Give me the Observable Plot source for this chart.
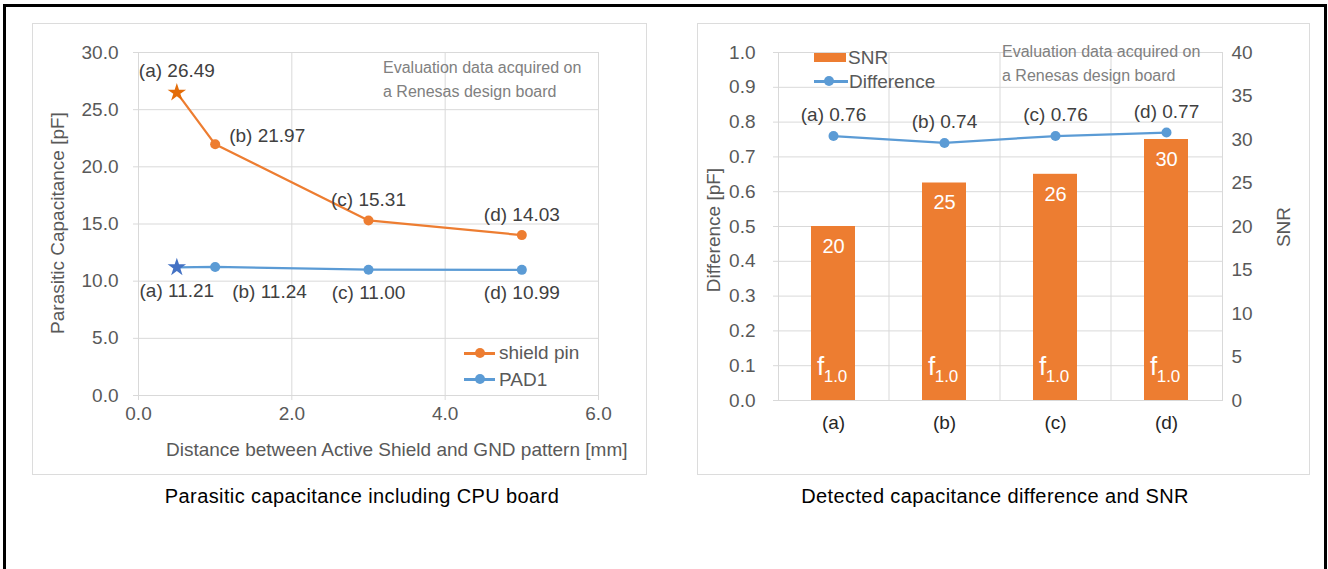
<!DOCTYPE html>
<html>
<head>
<meta charset="utf-8">
<script src="https://cdn.jsdelivr.net/npm/d3@7"></script>
<script src="https://cdn.jsdelivr.net/npm/@observablehq/plot@0.6"></script>
<style>
  html, body { margin: 0; padding: 0; background: #fff; }
  #page { position: relative; width: 1328px; height: 569px; overflow: hidden; background: #fff;
          font-family: "Liberation Sans", Arial, sans-serif; }
  .abs { position: absolute; white-space: nowrap; }
  .outer { position: absolute; left: 3px; top: 4px; width: 1318px; height: 600px;
           border: 3px solid #000; border-bottom: none; }
  .frame { position: absolute; border: 1.5px solid #dcdcdc; box-sizing: border-box; }
  .ann { font-size: 16px; line-height: 16px; color: #808080; }
  .axt { font-size: 19px; line-height: 19px; color: #595959; }
  .cap { font-size: 20px; line-height: 20px; color: #000; letter-spacing: 0.4px; transform: translateX(-50%); }
  .rot { transform: translate(-50%, -50%) rotate(-90deg); }
  .leg { font-size: 19px; line-height: 19px; color: #595959; }
  #right g[aria-label="x-axis tick label"] text, #right g[aria-label="x-axis"] text { fill: #262626; }
  #left g[aria-label$="tick"] path, #right g[aria-label="y-axis tick"] path,
  #left g[aria-label="x-axis"] line, #left g[aria-label="y-axis"] line, #right g[aria-label="y-axis"] line { stroke: #d9d9d9; }
</style>
</head>
<body>
<div id="page">
  <div class="outer"></div>
  <div class="frame" style="left:32px;top:23px;width:615px;height:452px;"></div>
  <div class="frame" style="left:697px;top:23px;width:613px;height:452px;"></div>
  <div id="left" class="abs" style="left:33px;top:24px;"></div>
  <div id="right" class="abs" style="left:698px;top:24px;"></div>

  <!-- left chart texts -->
  <div class="abs axt rot" style="left:57px;top:223px;">Parasitic Capacitance [pF]</div>
  <div class="abs axt" style="left:166px;top:440px;">Distance between Active Shield and GND pattern [mm]</div>
  <div class="abs ann" style="left:383px;top:60px;">Evaluation data acquired on</div>
  <div class="abs ann" style="left:383px;top:84px;">a Renesas design board</div>
  <div class="abs" style="left:464px;top:352px;width:31px;height:2.5px;background:#ED7D31;"></div>
  <div class="abs" style="left:475px;top:348px;width:10px;height:10px;border-radius:50%;background:#ED7D31;"></div>
  <div class="abs leg" style="left:499px;top:343px;">shield pin</div>
  <div class="abs" style="left:464px;top:378px;width:31px;height:2.5px;background:#5B9BD5;"></div>
  <div class="abs" style="left:475px;top:374px;width:10px;height:10px;border-radius:50%;background:#5B9BD5;"></div>
  <div class="abs leg" style="left:499px;top:370px;">PAD1</div>
  <div class="abs cap" style="left:362px;top:486px;">Parasitic capacitance including CPU board</div>

  <!-- right chart texts -->
  <div class="abs axt rot" style="left:713px;top:230px;">Difference [pF]</div>
  <div class="abs axt rot" style="left:1283px;top:227px;">SNR</div>
  <div class="abs ann" style="left:1002px;top:44px;">Evaluation data acquired on</div>
  <div class="abs ann" style="left:1002px;top:68px;">a Renesas design board</div>
  <div class="abs" style="left:814px;top:53px;width:32px;height:9px;background:#ED7D31;"></div>
  <div class="abs leg" style="left:848px;top:48px;">SNR</div>
  <div class="abs" style="left:814px;top:80px;width:34px;height:2.5px;background:#5B9BD5;"></div>
  <div class="abs" style="left:824px;top:76px;width:10px;height:10px;border-radius:50%;background:#5B9BD5;"></div>
  <div class="abs leg" style="left:849px;top:72px;">Difference</div>
  <div class="abs cap" style="left:995px;top:486px;">Detected capacitance difference and SNR</div>
</div>

<script>
// ---------- data ----------
const pointNames   = ["(a)", "(b)", "(c)", "(d)"];
const distances    = [0.5, 1, 3, 5];
const shieldPin    = [26.49, 21.97, 15.31, 14.03];
const pad1         = [11.21, 11.24, 11.00, 10.99];
const leftYTicks   = [0, 5, 10, 15, 20, 25, 30];
const leftXTicks   = [0, 2, 4, 6];

const categories   = ["(a)", "(b)", "(c)", "(d)"];
const snrValues    = [20, 25, 26, 30];
const diffValues   = [0.76, 0.74, 0.76, 0.77];
const diffTicks    = [0, 0.1, 0.2, 0.3, 0.4, 0.5, 0.6, 0.7, 0.8, 0.9, 1.0];
const snrTicks     = [0, 5, 10, 15, 20, 25, 30, 35, 40];
const SNR_MAX      = 40;

// ---------- styles ----------
const ORANGE = "#ED7D31", BLUE = "#5B9BD5", GRID = "#d9d9d9";
const STAR_O = "#E36C09", STAR_B = "#4472C4";
const LABEL = "#404040";
const FONT = "'Liberation Sans', Arial, sans-serif";
const f1 = d3.format(".1f"), f2 = d3.format(".2f");

// ---------- left chart ----------
const rowsL = distances.map((x, i) => ({x, name: pointNames[i], shield: shieldPin[i], pad: pad1[i]}));
const isName = n => d => d.name === n;

const left = Plot.plot({
  width: 612, height: 450,
  marginLeft: 105, marginRight: 47, marginTop: 28, marginBottom: 79,
  style: {fontFamily: FONT, fontSize: "19px", color: "#595959", background: "none", overflow: "visible"},
  x: {domain: [0, 6], ticks: leftXTicks, tickFormat: f1, tickSize: 5, tickPadding: 6, label: null},
  y: {domain: [0, 30], ticks: leftYTicks, tickFormat: f1, tickSize: 5, tickPadding: 15, label: null},
  marks: [
    Plot.ruleY(leftYTicks, {stroke: GRID, strokeWidth: 1}),
    Plot.ruleX(leftXTicks, {stroke: GRID, strokeWidth: 1}),
    Plot.line(rowsL, {x: "x", y: "shield", stroke: ORANGE, strokeWidth: 2.25}),
    Plot.line(rowsL, {x: "x", y: "pad", stroke: BLUE, strokeWidth: 2.25}),
    Plot.dot(rowsL.filter(d => d.name !== "(a)"), {x: "x", y: "shield", r: 5, fill: ORANGE}),
    Plot.dot(rowsL.filter(d => d.name !== "(a)"), {x: "x", y: "pad", r: 5, fill: BLUE}),
    Plot.dot(rowsL.filter(isName("(a)")), {x: "x", y: "shield", symbol: "star", r: 5.8, fill: STAR_O}),
    Plot.dot(rowsL.filter(isName("(a)")), {x: "x", y: "pad", symbol: "star", r: 5.8, fill: STAR_B}),
    // shield pin labels
    Plot.text(rowsL.filter(isName("(a)")), {x: "x", y: "shield", text: d => `${d.name} ${f2(d.shield)}`, dy: -22, fill: LABEL}),
    Plot.text(rowsL.filter(isName("(b)")), {x: "x", y: "shield", text: d => `${d.name} ${f2(d.shield)}`, dx: 14, dy: -8, textAnchor: "start", fill: LABEL}),
    Plot.text(rowsL.filter(isName("(c)")), {x: "x", y: "shield", text: d => `${d.name} ${f2(d.shield)}`, dy: -21, fill: LABEL}),
    Plot.text(rowsL.filter(isName("(d)")), {x: "x", y: "shield", text: d => `${d.name} ${f2(d.shield)}`, dy: -20, fill: LABEL}),
    // PAD1 labels
    Plot.text(rowsL.filter(isName("(a)")), {x: "x", y: "pad", text: d => `${d.name} ${f2(d.pad)}`, dy: 24, fill: LABEL}),
    Plot.text(rowsL.filter(isName("(b)")), {x: "x", y: "pad", text: d => `${d.name} ${f2(d.pad)}`, dx: 17, dy: 25, textAnchor: "start", fill: LABEL}),
    Plot.text(rowsL.filter(isName("(c)")), {x: "x", y: "pad", text: d => `${d.name} ${f2(d.pad)}`, dy: 23, fill: LABEL}),
    Plot.text(rowsL.filter(isName("(d)")), {x: "x", y: "pad", text: d => `${d.name} ${f2(d.pad)}`, dy: 23, fill: LABEL})
  ]
});
document.getElementById("left").appendChild(left);

// ---------- right chart ----------
const rowsR = categories.map((c, i) => ({c, snr: snrValues[i], diff: diffValues[i]}));
const RW = 610, RML = 80, RMR = 86;
const step = (RW - RML - RMR) / categories.length;

const right = Plot.plot({
  width: RW, height: 450,
  marginLeft: RML, marginRight: RMR, marginTop: 28, marginBottom: 74,
  style: {fontFamily: FONT, fontSize: "19px", color: "#595959", background: "none", overflow: "visible"},
  x: {domain: categories, paddingInner: 0.6, paddingOuter: 0.3, tickSize: 0, tickPadding: 15, label: null},
  y: {domain: [0, 1], ticks: diffTicks, tickFormat: f1, tickSize: 5, tickPadding: 18, label: null},
  marks: [
    Plot.ruleY(diffTicks, {stroke: GRID, strokeWidth: 1}),
    Plot.frame({stroke: GRID, strokeWidth: 1}),
    Plot.ruleX(categories.slice(1), {x: d => d, dx: -step / 2, stroke: GRID, strokeWidth: 1}),
    Plot.barY(rowsR, {x: "c", y: d => d.snr / SNR_MAX, fill: ORANGE}),
    Plot.text(rowsR, {x: "c", y: d => d.snr / SNR_MAX, text: d => String(d.snr), dy: 20, fill: "#fff", fontSize: 20}),
    Plot.text(rowsR, {x: "c", y: () => 0, text: () => "f", dx: -13, dy: -34, fill: "#fff", fontSize: 26}),
    Plot.text(rowsR, {x: "c", y: () => 0, text: () => "1.0", dx: 2, dy: -24, fill: "#fff", fontSize: 17}),
    Plot.line(rowsR, {x: "c", y: "diff", stroke: BLUE, strokeWidth: 2.25}),
    Plot.dot(rowsR, {x: "c", y: "diff", r: 5, fill: BLUE}),
    Plot.text(rowsR, {x: "c", y: "diff", text: d => `${d.c} ${f2(d.diff)}`, dy: -21, fill: LABEL}),
    Plot.text(snrTicks, {y: d => d / SNR_MAX, frameAnchor: "right", dx: 9, textAnchor: "start", text: d => String(d)})
  ]
});
document.getElementById("right").appendChild(right);
</script>
</body>
</html>
